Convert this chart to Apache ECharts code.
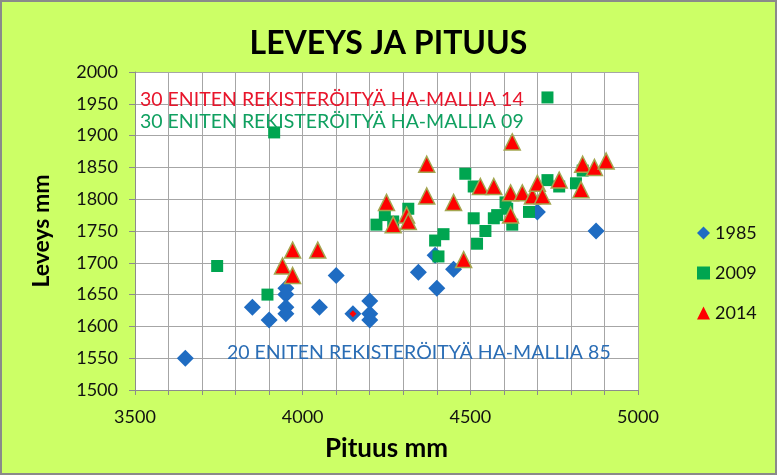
<!DOCTYPE html>
<html>
<head>
<meta charset="utf-8">
<script src="https://cdn.jsdelivr.net/npm/echarts@6/dist/echarts.min.js"></script>
<style>
    body { margin: 0; background: #ccff66; }
    #main { position: absolute; left: 0; top: 0; width: 777px; height: 475px; }
    #frame { position: absolute; left: 0; top: 0; width: 777px; height: 475px;
             box-sizing: border-box; border: 2px solid #8a8a8a; pointer-events: none; }
</style>
</head>
<body>
<div id="main"></div>
<div id="frame"></div>
<script>
    // pituus (x) / leveys (y), luettu kuvasta
    var data1985 = [
        [3650, 1550], [3850, 1630], [3900, 1610], [3950, 1660], [3950, 1650],
        [3950, 1630], [3950, 1620], [4050, 1630], [4100, 1680], [4150, 1620],
        [4200, 1640], [4200, 1620], [4200, 1610], [4345, 1685], [4395, 1712],
        [4400, 1660], [4450, 1690], [4700, 1780], [4875, 1750]
    ];
    var data2009 = [
        [3745, 1695], [3895, 1650], [3915, 1905], [4220, 1760], [4245, 1775],
        [4270, 1765], [4315, 1785], [4395, 1735], [4405, 1710], [4420, 1745],
        [4485, 1840], [4510, 1820], [4510, 1770], [4520, 1730], [4545, 1750],
        [4570, 1770], [4580, 1775], [4605, 1795], [4610, 1785], [4625, 1760],
        [4675, 1780], [4730, 1960], [4730, 1830], [4765, 1820], [4815, 1825],
        [4835, 1845]
    ];
    var data2014 = [
        [3940, 1695], [3970, 1720], [3970, 1680], [4045, 1720], [4250, 1795],
        [4270, 1760], [4310, 1775], [4315, 1765], [4370, 1855], [4370, 1805],
        [4450, 1795], [4480, 1705], [4530, 1820], [4570, 1820], [4620, 1775],
        [4620, 1810], [4625, 1890], [4655, 1810], [4685, 1805], [4700, 1825],
        [4715, 1805], [4765, 1830], [4830, 1815], [4835, 1855], [4870, 1850],
        [4905, 1860]
    ];
    var redMark = [[4150, 1620]];

    var seriesNames = ['1985', '2009', '2014'];
    var notes = [
        '30 ENITEN REKISTERÖITYÄ HA-MALLIA 14',
        '30 ENITEN REKISTERÖITYÄ HA-MALLIA 09',
        '20 ENITEN REKISTERÖITYÄ HA-MALLIA 85'
    ];

    var font = 'Lato, "Noto Sans", sans-serif';
    var plain = function (v) { return String(v); };
    var chart = echarts.init(document.getElementById('main'));

    chart.setOption({
        backgroundColor: '#ccff66',
        animation: false,
        title: [
            {text: 'LEVEYS JA PITUUS', left: 'center', top: 23,
                textStyle: {fontFamily: font, fontSize: 32, fontWeight: 'bold', color: '#000'}},
            {text: notes[0], left: 135, top: 85,
                textStyle: {fontFamily: font, fontSize: 19.5, fontWeight: 'normal', color: '#e8152b'}},
            {text: notes[1], left: 135, top: 107,
                textStyle: {fontFamily: font, fontSize: 19.5, fontWeight: 'normal', color: '#10a060'}},
            {text: notes[2], left: 222, top: 338,
                textStyle: {fontFamily: font, fontSize: 19.5, fontWeight: 'normal', color: '#2a6db5'}}
        ],
        legend: {
            orient: 'vertical',
            left: 692,
            top: 219,
            itemGap: 22,
            itemWidth: 13,
            itemHeight: 13,
            textStyle: {fontFamily: font, fontSize: 18, color: '#111'},
            data: [
                {name: seriesNames[0], icon: 'diamond'},
                {name: seriesNames[1], icon: 'rect'},
                {name: seriesNames[2], icon: 'triangle', itemStyle: {borderWidth: 0}}
            ]
        },
        grid: {
            left: 135, right: 139, top: 72, bottom: 85,
            show: true, backgroundColor: '#fff', borderWidth: 0
        },
        xAxis: {
            type: 'value',
            min: 3500, max: 5000, interval: 500,
            name: 'Pituus mm',
            nameLocation: 'middle',
            nameGap: 46,
            nameTextStyle: {fontFamily: font, fontSize: 26, fontWeight: 'bold', color: '#000'},
            axisLine: {lineStyle: {color: '#8c8c8c'}},
            axisTick: {show: true, length: 5, lineStyle: {color: '#8c8c8c'}},
            minorTick: {show: true, splitNumber: 5, length: 5, lineStyle: {color: '#8c8c8c'}},
            splitLine: {show: true, lineStyle: {color: '#a6a6a6'}},
            minorSplitLine: {show: true, lineStyle: {color: '#a6a6a6'}},
            axisLabel: {fontFamily: font, fontSize: 18, color: '#111', margin: 18, formatter: plain}
        },
        yAxis: {
            type: 'value',
            min: 1500, max: 2000, interval: 50,
            name: 'Leveys mm',
            nameLocation: 'middle',
            nameGap: 82,
            nameTextStyle: {fontFamily: font, fontSize: 23, fontWeight: 'bold', color: '#000'},
            axisLine: {show: true, lineStyle: {color: '#8c8c8c'}},
            axisTick: {show: true, length: 6, lineStyle: {color: '#8c8c8c'}},
            splitLine: {show: true, lineStyle: {color: '#a6a6a6'}},
            axisLabel: {fontFamily: font, fontSize: 18, color: '#111', margin: 17, formatter: plain}
        },
        series: [
            {
                name: seriesNames[0], type: 'scatter', symbol: 'diamond', symbolSize: 17,
                itemStyle: {color: '#1f6cc2', opacity: 1},
                data: data1985
            },
            {
                name: 'merkki', type: 'scatter', symbol: 'diamond', symbolSize: 7,
                itemStyle: {color: '#ff0000', opacity: 1},
                data: redMark
            },
            {
                name: seriesNames[1], type: 'scatter', symbol: 'rect', symbolSize: 12,
                itemStyle: {color: '#00a550', opacity: 1},
                data: data2009
            },
            {
                name: seriesNames[2], type: 'scatter', symbol: 'triangle', symbolSize: 16,
                itemStyle: {color: '#ff0000', borderColor: '#a4a650', borderWidth: 1.5, opacity: 1},
                data: data2014
            }
        ]
    });
</script>
</body>
</html>
